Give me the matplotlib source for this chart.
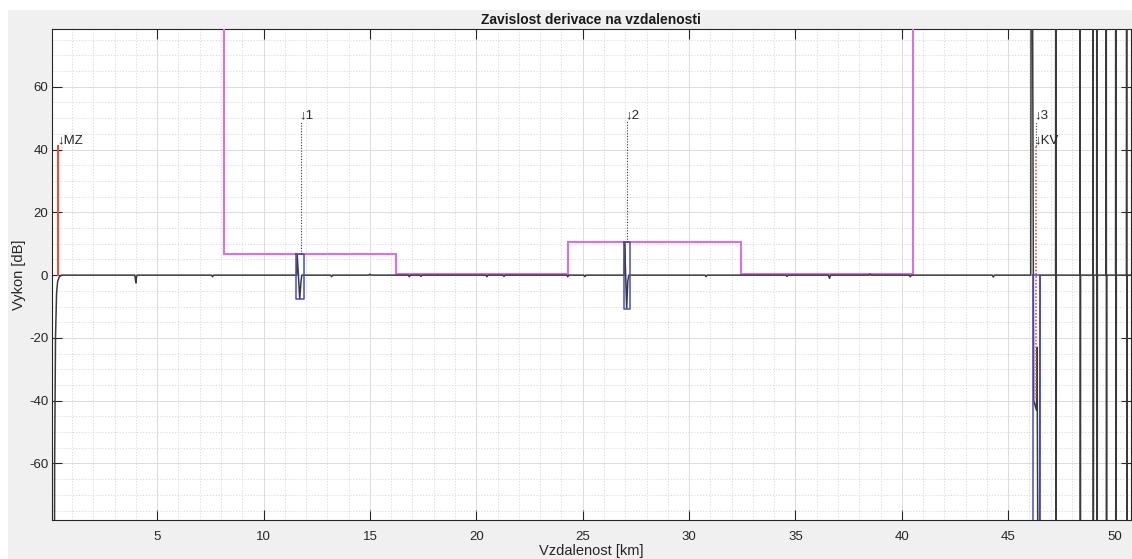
import matplotlib
matplotlib.use("Agg")
import matplotlib.pyplot as plt
from matplotlib.ticker import MultipleLocator, FixedLocator
from matplotlib.patches import Rectangle

plt.rcParams['font.family'] = ['Liberation Sans', 'DejaVu Sans']
plt.rcParams['axes.unicode_minus'] = False

# ---- data -------------------------------------------------------------
# derivative trace (km, dB); +/-200 stands for values far off the scale
trace_km = [0.15, 0.18, 0.22, 0.27, 0.32, 0.40, 0.50,
            3.95, 4.00, 4.03, 4.06,
            7.55, 7.60, 7.65,
            11.55, 11.58, 11.70, 11.76, 11.80,
            13.15, 13.20, 13.25,
            14.95, 15.00, 15.05,
            16.80, 16.85, 16.90,
            17.35, 17.40, 17.45,
            20.45, 20.50, 20.55,
            21.25, 21.30, 21.35,
            24.25, 24.30, 24.35,
            25.05, 25.10, 25.15,
            26.95, 26.97, 27.07, 27.12, 27.17,
            30.75, 30.80, 30.85,
            34.55, 34.60, 34.65,
            36.55, 36.60, 36.65,
            38.45, 38.50, 38.55,
            40.35, 40.40, 40.45,
            44.25, 44.30, 44.35,
            46.06, 46.10, 46.20, 46.33, 46.36, 46.45, 46.50]
trace_db = [-200, -60, -20, -6, -2, -0.5, 0,
            0, -2.5, -0.5, 0,
            0, -0.5, 0,
            0, 6.6, -7.6, -2.0, 0,
            0, -0.5, 0,
            0, 0.3, 0,
            0, -0.5, 0,
            0, -0.4, 0,
            0, -0.5, 0,
            0, -0.4, 0,
            0, -0.5, 0,
            0, -0.5, 0,
            0, 10.5, -10.5, -2.0, 0,
            0, -0.5, 0,
            0, -0.4, 0,
            0, -1.0, 0,
            0, 0.3, 0,
            0, -0.5, 0,
            0, -0.6, 0,
            0, 200, -40, -43, -23, -200, 0]
# noise spikes past the fibre end (km)
tail_spikes_km = [47.24, 48.38, 48.99, 49.17, 49.61, 50.06, 50.57]
tail_end_km = 50.75

# section averages (magenta steps)
section_edges_km = [0.07, 8.14, 16.22, 24.32, 32.42, 40.54, 50.75]
section_levels_db = [200, 6.7, 0.3, 10.7, 0.3, 200]

# detected events: position, marker label, box extent
event_km = [11.75, 27.06, 46.30]
event_labels = ['\u21931', '\u21932', '\u21933']
event_box_left = [11.52, 26.95, 46.18]
event_box_right = [11.90, 27.22, 46.50]
event_box_top = [6.7, 10.6, 0.0]
event_box_bottom = [-7.75, -10.8, -200]
event_line_bottom = [6.7, 10.6, 41.0]
event_label_db = 49.0

# start (MZ) and end (KV) markers
mz_km, mz_db = 0.36, 41.0
kv_km, kv_db, kv_low_db = 46.30, 41.0, -39.0

xticks = [5, 10, 15, 20, 25, 30, 35, 40, 45, 50]
yticks = [-60, -40, -20, 0, 20, 40, 60]

# ---- figure -------------------------------------------------------------
fig = plt.figure(figsize=(11.32, 5.59), dpi=100, facecolor='white')
fig.patches.append(Rectangle((8 / 1132, 0), 1, (559 - 10) / 559,
                             transform=fig.transFigure, facecolor='#f0f0f0',
                             edgecolor='none', zorder=-10))
ax = fig.add_axes([52.3 / 1132, 39 / 559, (1130.5 - 52.3) / 1132, (520 - 29.3) / 559])
ax.set_facecolor('white')

ax.set_xlim(0.07, 50.75)
ax.set_ylim(-78.0, 78.3)

# build the trace including the tail spikes
tx = list(trace_km)
ty = list(trace_db)
for s in tail_spikes_km:
    tx += [s - 0.012, s, s + 0.012, s + 0.024]
    ty += [0, 200, -200, 0]
tx.append(tail_end_km)
ty.append(0)

# section steps
ax.stairs(section_levels_db, section_edges_km, baseline=None,
          color='#dc6ee6', lw=1.5, zorder=3)

ax.plot(tx, ty, color='#3a3a3a', lw=1.1, zorder=4)

# event boxes, marker lines and labels
for i in range(len(event_km)):
    l, r = event_box_left[i], event_box_right[i]
    t, b = event_box_top[i], event_box_bottom[i]
    ax.plot([l, r, r, l, l], [t, t, b, b, t], color='#4a4ac4', lw=1.1, zorder=5)
    ax.plot([event_km[i], event_km[i]], [event_line_bottom[i], event_label_db],
            color='#333333', lw=0.8, ls=(0, (1, 1.5)), zorder=6)
    ax.text(event_km[i] - 0.05, event_label_db, event_labels[i], fontsize=9.5,
            color='#262626', ha='left', va='bottom', zorder=7)

# MZ / KV markers
ax.plot([mz_km, mz_km], [0, mz_db], color='#e8503c', lw=1.5, zorder=6)
ax.text(mz_km - 0.05, mz_db, '\u2193MZ', fontsize=9.5, color='#262626',
        ha='left', va='bottom', zorder=7)
ax.plot([kv_km, kv_km], [kv_low_db, kv_db], color='#e8503c', lw=1.2,
        ls=(0, (1, 1)), zorder=6)
ax.text(kv_km - 0.05, kv_db, '\u2193KV', fontsize=9.5, color='#262626',
        ha='left', va='bottom', zorder=7)

# axes styling
ax.xaxis.set_major_locator(FixedLocator(xticks))
ax.yaxis.set_major_locator(FixedLocator(yticks))
ax.xaxis.set_minor_locator(MultipleLocator(1))
ax.yaxis.set_minor_locator(MultipleLocator(5))
ax.grid(True, which='major', color='#dcdcdc', lw=0.7, ls='-', zorder=0)
ax.grid(True, which='minor', color='#d6d6d6', lw=0.6, ls=(0, (1.5, 2)), zorder=0)
ax.set_axisbelow(True)
ax.tick_params(which='major', direction='in', length=7, width=0.8,
               top=True, right=True, labelsize=9.5, colors='#262626')
ax.tick_params(axis='x', which='major', pad=8)
ax.tick_params(axis='y', which='major', pad=3)
ax.tick_params(which='minor', length=0)
for sp in ax.spines.values():
    sp.set_color('#262626')
    sp.set_linewidth(0.8)

ax.set_title('Zavislost derivace na vzdalenosti', fontsize=10, fontweight='bold',
             color='#1a1a1a', pad=4)
ax.set_xlabel('Vzdalenost [km]', fontsize=10.5, color='#262626', labelpad=1)
ax.set_ylabel('Vykon [dB]', fontsize=10.5, color='#262626', labelpad=2)

fig.savefig('out.png', dpi=100, facecolor=fig.get_facecolor())
